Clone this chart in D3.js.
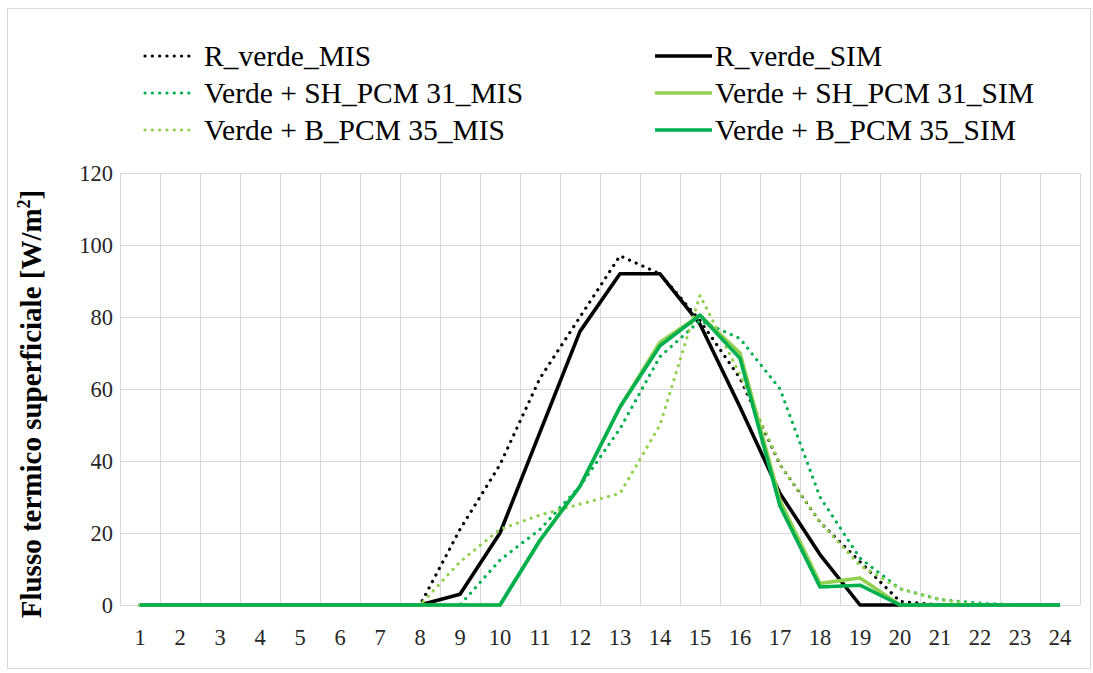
<!DOCTYPE html>
<html><head><meta charset="utf-8">
<script src="https://cdn.jsdelivr.net/npm/d3@7"></script>
<style>
html,body{margin:0;padding:0;background:#fff;}
svg{display:block;}
</style></head>
<body>
<svg id="chart" width="1093" height="673"></svg>
<script>
const categories = ["1","2","3","4","5","6","7","8","9","10","11","12","13","14","15","16","17","18","19","20","21","22","23","24"];
const yTicks = [0,20,40,60,80,100,120];
const rVerdeMIS = [0,0,0,0,0,0,0,0,21,39,63,80,97,92,79,63,39,23,12,1,0,0,0,0];
const rVerdeSIM = [0,0,0,0,0,0,0,0,3,20,48,76,92,92,78,55,31,14,0,0,0,0,0,0];
const shMIS = [0,0,0,0,0,0,0,0,0,12.5,21,33,49,69,79,74,60,30,13,4.5,1.5,0.5,0,0];
const shSIM = [0,0,0,0,0,0,0,0,0,0,18,33,55,73,80.5,70,29,6,7.5,0,0,0,0,0];
const bMIS = [0,0,0,0,0,0,0,0,12,21,25,28,31,50,86,64,39,23,11,4.5,1.5,0,0,0];
const bSIM = [0,0,0,0,0,0,0,0,0,0,18,33,55,72,80.5,68.5,27.5,5,5.5,0,0,0,0,0];

const series = [
  {name:"R_verde_MIS", values:rVerdeMIS, color:"#000000", dotted:true},
  {name:"R_verde_SIM", values:rVerdeSIM, color:"#000000", dotted:false},
  {name:"Verde + SH_PCM 31_MIS", values:shMIS, color:"#00B050", dotted:true},
  {name:"Verde + SH_PCM 31_SIM", values:shSIM, color:"#92D050", dotted:false},
  {name:"Verde + B_PCM 35_MIS", values:bMIS, color:"#92D050", dotted:true},
  {name:"Verde + B_PCM 35_SIM", values:bSIM, color:"#00B050", dotted:false}
];

(function(){
const svg = d3.select("#chart");
const serif = "'Liberation Serif','Times New Roman',serif";

svg.append("rect").attr("x",7.5).attr("y",8.5).attr("width",1083).attr("height",660)
  .attr("fill","#fff").attr("stroke","#d9d9d9").attr("stroke-width",1);

const pL=120, pR=1080, pT=173, pB=605;
const x = d3.scaleBand().domain(categories).range([pL,pR]).paddingInner(0).paddingOuter(0);
const y = d3.scaleLinear().domain([0,120]).range([pB,pT]);
const cx = c => x(c) + x.bandwidth()/2;

const grid = svg.append("g").attr("stroke","#d9d9d9").attr("stroke-width",1);
yTicks.forEach(t=>{
  grid.append("line").attr("x1",pL).attr("x2",pR).attr("y1",Math.round(y(t))+0.5).attr("y2",Math.round(y(t))+0.5);
});
const bounds = categories.map(c=>x(c)).concat([pR]);
bounds.forEach(b=>{
  grid.append("line").attr("x1",Math.round(b)+0.5).attr("x2",Math.round(b)+0.5).attr("y1",pT).attr("y2",pB);
});

const yAxis = d3.axisLeft(y).tickValues(yTicks).tickSize(0).tickPadding(0);
const gy = svg.append("g").attr("transform",`translate(${pL-6},0)`).call(yAxis);
gy.select(".domain").remove();
gy.selectAll("text").attr("font-family",serif).attr("font-size",22.5).attr("fill","#262626").attr("dy","0.35em").attr("x",-1);

const xAxis = d3.axisBottom(x).tickSize(0).tickPadding(0);
const gx = svg.append("g").attr("transform",`translate(0,${pB+20})`).call(xAxis);
gx.select(".domain").remove();
gx.selectAll("text").attr("font-family",serif).attr("font-size",22.5).attr("fill","#262626").attr("dy","0.35em").attr("y",12);

svg.append("text").attr("transform",`translate(41,404) rotate(-90)`)
  .attr("text-anchor","middle").attr("font-family",serif).attr("font-weight","bold").attr("font-size",29).attr("fill","#000")
  .html("Flusso termico superficiale [W/m<tspan dy='-11' font-size='18'>2</tspan><tspan dy='11'>]</tspan>");

const line = d3.line().x((d,i)=>cx(categories[i])).y(d=>y(d));
series.forEach(s=>{
  svg.append("path").datum(s.values).attr("d",line).attr("fill","none")
    .attr("stroke",s.color)
    .attr("stroke-width", s.dotted?3.2:3.6)
    .attr("stroke-linecap", s.dotted?"round":"butt")
    .attr("stroke-linejoin","round")
    .attr("stroke-dasharray", s.dotted?"0.1 7.2":null);
});

const legCols = [{lx:145, tx:204},{lx:655, tx:715}];
const legRows = [56,93,130];
series.forEach((s,i)=>{
  const col = legCols[i%2], row = legRows[Math.floor(i/2)];
  svg.append("line").attr("x1",col.lx).attr("x2",col.lx+ (s.dotted?45:57)).attr("y1",row).attr("y2",row)
    .attr("stroke",s.color).attr("stroke-width",s.dotted?3.2:3.6)
    .attr("stroke-linecap", s.dotted?"round":"butt")
    .attr("stroke-dasharray", s.dotted?"0.1 7.2":null);
  svg.append("text").attr("x",col.tx).attr("y",row).attr("dy","0.35em")
    .attr("font-family",serif).attr("font-size",29.5).attr("fill","#000").text(s.name);
});
})();
</script>
</body></html>
